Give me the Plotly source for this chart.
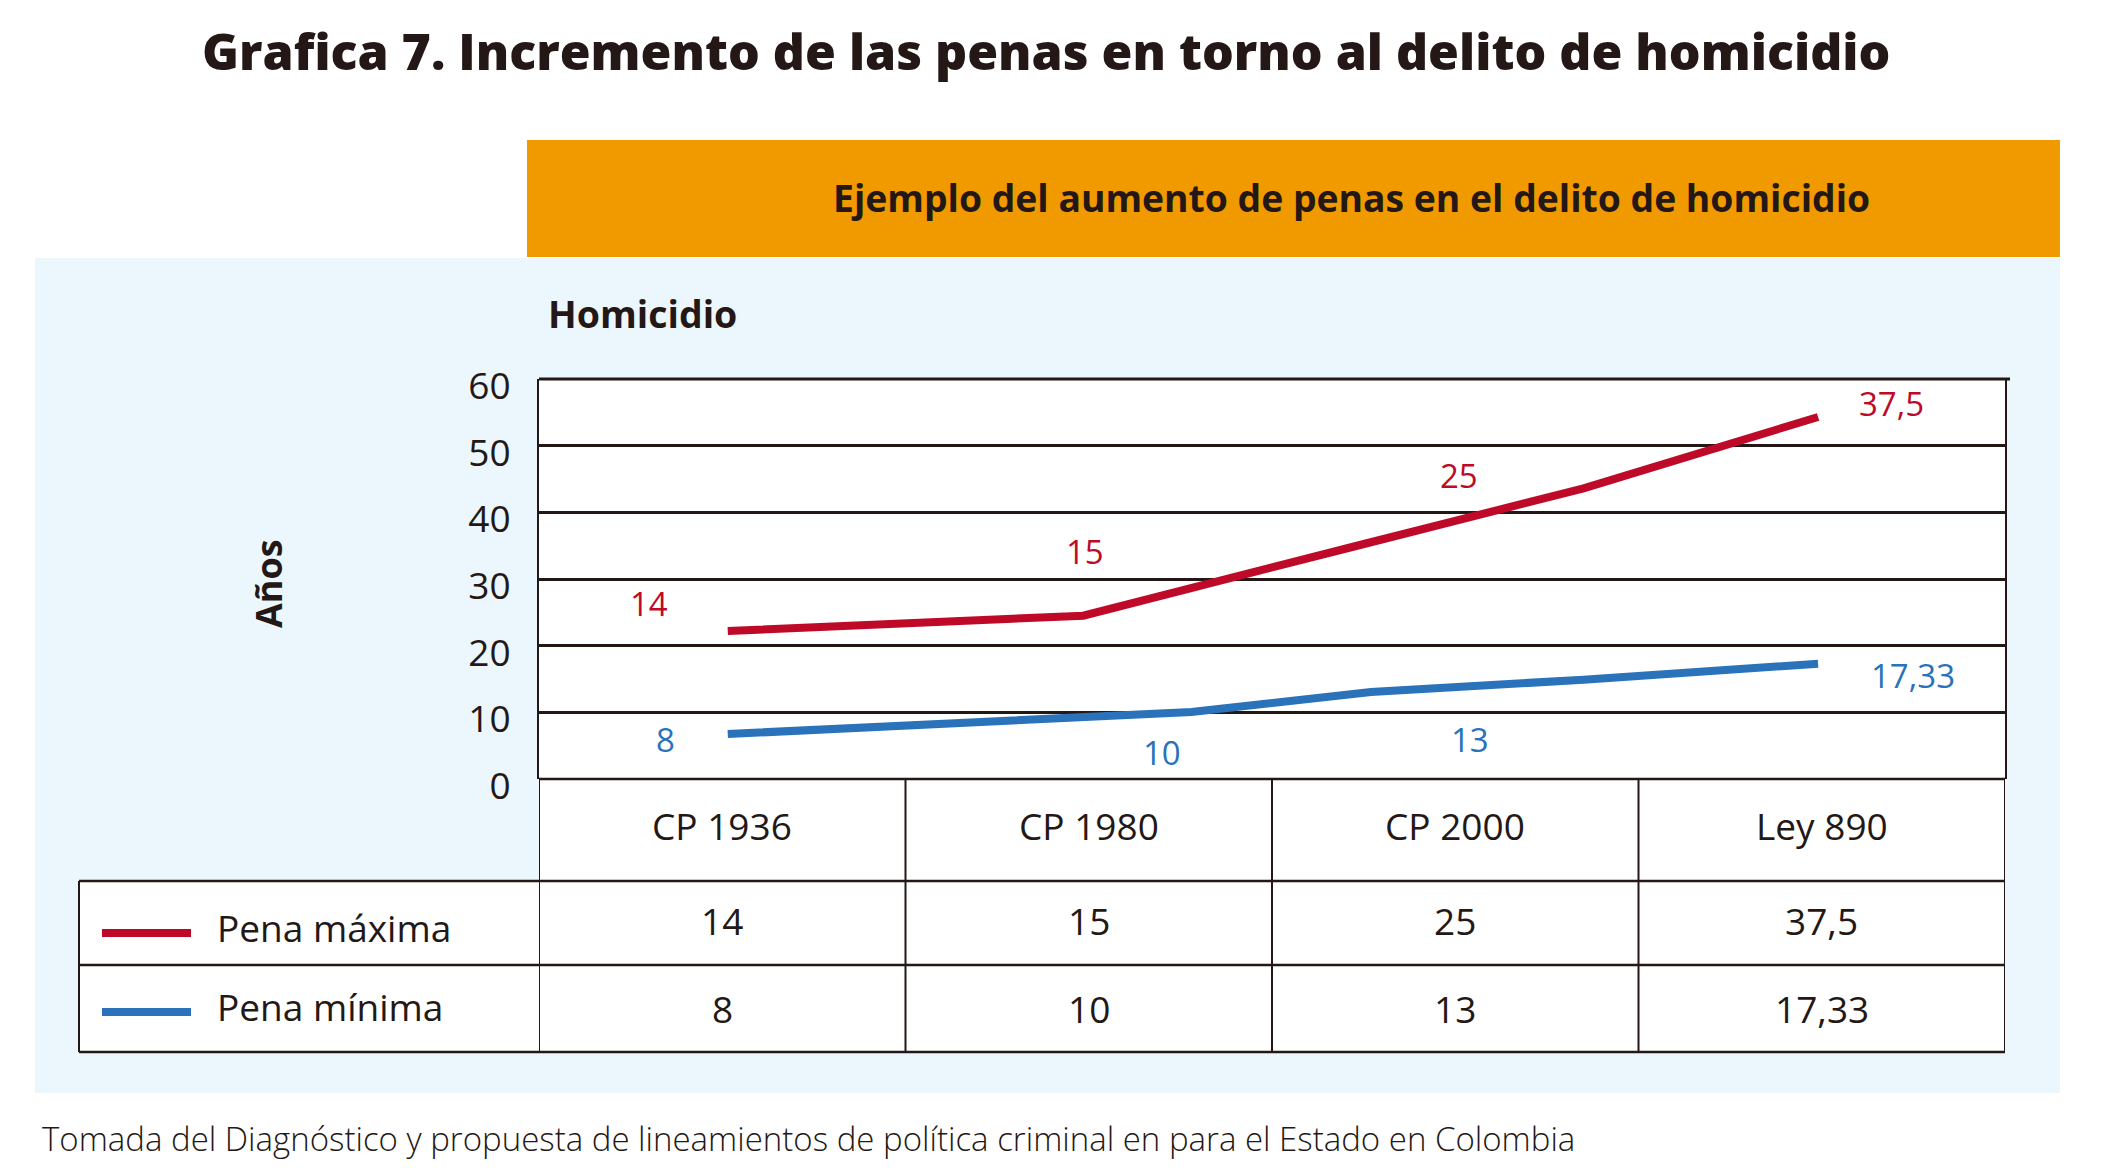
import plotly.graph_objects as go

# ---------------- data ----------------
categorias = ["CP 1936", "CP 1980", "CP 2000", "Ley 890"]
pena_maxima = [14, 15, 25, 37.5]
pena_minima = [8, 10, 13, 17.33]
series_nombres = ["Pena máxima", "Pena mínima"]

# lines as drawn in the picture (x: position across the four columns, y: años)
linea_max_x = [0.515, 1.485, 2.24, 2.85, 3.49]
linea_max_y = [22.2, 24.5, 35.1, 43.6, 54.3]
linea_min_x = [0.515, 1.78, 2.27, 2.85, 3.49]
linea_min_y = [6.75, 10.05, 13.05, 14.9, 17.3]

y_ticks = [0, 10, 20, 30, 40, 50, 60]

titulo = "Grafica 7. Incremento de las penas en torno al delito de homicidio"
encabezado = "Ejemplo del aumento de penas en el delito de homicidio"
subtitulo = "Homicidio"
eje_y = "Años"
fuente = ("Tomada del Diagnóstico y propuesta de lineamientos de política criminal "
          "en para el Estado en Colombia")

# label anchor positions (axis units)
pos_lbl_max = [(0.30, 26.3), (1.49, 34.1), (2.51, 45.5), (3.69, 56.3)]
pos_lbl_min = [(0.345, 6.0), (1.70, 3.95), (2.54, 5.9), (3.75, 15.5)]

# ---------------- style ----------------
OFF = 8                      # page body margin
W, H = 2103 - 2 * OFF, 1168 - 2 * OFF
ML, MR, MT, MB = 531, 90, 371, 381
PW, PH = W - ML - MR, H - MT - MB
ROJO = "#BE0A28"
AZUL = "#2A72B9"
NARANJA = "#F09A00"
CELESTE = "#EBF6FD"
TXT = "#231815"
FONT = "Open Sans"


def px(x):  # screenshot x -> paper
    return (x - OFF - ML) / PW


def py(y):  # screenshot y -> paper
    return (H - MB - (y - OFF)) / PH


def fmt(v):
    return f"{v:g}".replace(".", ",")


fig = go.Figure()
fig.add_trace(go.Scatter(x=linea_max_x, y=linea_max_y, mode="lines",
                         line=dict(color=ROJO, width=8), name=series_nombres[0],
                         showlegend=False, hoverinfo="skip"))
fig.add_trace(go.Scatter(x=linea_min_x, y=linea_min_y, mode="lines",
                         line=dict(color=AZUL, width=8), name=series_nombres[1],
                         showlegend=False, hoverinfo="skip"))

shapes = []
# backgrounds
shapes.append(dict(type="rect", xref="paper", yref="paper", x0=px(35), x1=px(2060),
                   y0=py(258), y1=py(1093), fillcolor=CELESTE, line_width=0, layer="below"))
shapes.append(dict(type="rect", xref="paper", yref="paper", x0=px(527), x1=px(2060),
                   y0=py(140), y1=py(257), fillcolor=NARANJA, line_width=0, layer="below"))
shapes.append(dict(type="rect", xref="paper", yref="paper", x0=0, x1=1,
                   y0=py(1052), y1=1, fillcolor="white", line_width=0, layer="below"))
shapes.append(dict(type="rect", xref="paper", yref="paper", x0=px(79), x1=0,
                   y0=py(1052), y1=py(881), fillcolor="white", line_width=0, layer="below"))

# table grid
row_lines = [881, 965, 1052]
for yy in row_lines:
    shapes.append(dict(type="line", xref="paper", yref="paper", x0=px(79), x1=1,
                       y0=py(yy), y1=py(yy), line=dict(color=TXT, width=2.5)))
shapes.append(dict(type="line", xref="paper", yref="paper", x0=px(79), x1=px(79),
                   y0=py(881), y1=py(1052), line=dict(color=TXT, width=2)))
for i in range(len(categorias) + 1):
    shapes.append(dict(type="line", xref="x", yref="paper", x0=i, x1=i,
                       y0=0, y1=py(1052), line=dict(color=TXT, width=2)))
# top border slightly past the right edge
shapes.append(dict(type="line", xref="paper", yref="paper", x0=0, x1=px(2010),
                   y0=1, y1=1, line=dict(color=TXT, width=3)))
shapes.append(dict(type="line", xref="paper", yref="paper", x0=0, x1=1,
                   y0=0, y1=0, line=dict(color=TXT, width=2.5)))

# legend swatches
for yy, col in [(933, ROJO), (1012, AZUL)]:
    shapes.append(dict(type="line", xref="paper", yref="paper", x0=px(102), x1=px(191),
                       y0=py(yy), y1=py(yy), line=dict(color=col, width=8)))

ann = []
ann.append(dict(text=titulo, xref="paper", yref="paper", x=px(1046), y=py(50.5),
                xanchor="center", yanchor="middle", showarrow=False,
                font=dict(family=FONT, size=50, color=TXT, weight=800)))
ann.append(dict(text=encabezado, xref="paper", yref="paper", x=px(831), y=py(197.5),
                xanchor="left", yanchor="middle", showarrow=False,
                font=dict(family=FONT, size=37.3, color=TXT, weight=700)))
ann.append(dict(text=subtitulo, xref="paper", yref="paper", x=px(546), y=py(313),
                xanchor="left", yanchor="middle", showarrow=False,
                font=dict(family=FONT, size=37.5, color=TXT, weight=700)))
ann.append(dict(text=eje_y, xref="paper", yref="paper", x=px(268), y=py(584),
                xanchor="center", yanchor="middle", showarrow=False, textangle=-90,
                font=dict(family=FONT, size=36, color=TXT, weight=700)))
ann.append(dict(text=fuente, xref="paper", yref="paper", x=px(40), y=py(1138),
                xanchor="left", yanchor="middle", showarrow=False,
                font=dict(family=FONT, size=33, color=TXT, weight=300)))

# data labels
for (xx, yy), v in zip(pos_lbl_max, pena_maxima):
    ann.append(dict(text=fmt(v), x=xx, y=yy, xref="x", yref="y", showarrow=False,
                    xanchor="center", yanchor="middle",
                    font=dict(family=FONT, size=33, color=ROJO)))
for (xx, yy), v in zip(pos_lbl_min, pena_minima):
    ann.append(dict(text=fmt(v), x=xx, y=yy, xref="x", yref="y", showarrow=False,
                    xanchor="center", yanchor="middle",
                    font=dict(family=FONT, size=33, color=AZUL)))

# table text
for i, c in enumerate(categorias):
    ann.append(dict(text=c, x=i + 0.5, y=py(825), xref="x", yref="paper", showarrow=False,
                    xanchor="center", yanchor="middle",
                    font=dict(family=FONT, size=37, color=TXT)))
for i, v in enumerate(pena_maxima):
    ann.append(dict(text=fmt(v), x=i + 0.5, y=py(920), xref="x", yref="paper", showarrow=False,
                    xanchor="center", yanchor="middle",
                    font=dict(family=FONT, size=37, color=TXT)))
for i, v in enumerate(pena_minima):
    ann.append(dict(text=fmt(v), x=i + 0.5, y=py(1008), xref="x", yref="paper", showarrow=False,
                    xanchor="center", yanchor="middle",
                    font=dict(family=FONT, size=37, color=TXT)))
for yy, name in zip([927, 1007], series_nombres):
    ann.append(dict(text=name, xref="paper", yref="paper", x=px(215), y=py(yy),
                    xanchor="left", yanchor="middle", showarrow=False,
                    font=dict(family=FONT, size=37, color=TXT)))

fig.update_layout(
    width=W, height=H,
    margin=dict(l=ML, r=MR, t=MT, b=MB, pad=0),
    paper_bgcolor="white", plot_bgcolor="white",
    shapes=shapes, annotations=ann, showlegend=False,
    xaxis=dict(range=[0, len(categorias)], showticklabels=False, showgrid=False,
               zeroline=False, ticks="", fixedrange=True),
    yaxis=dict(range=[y_ticks[0], y_ticks[-1]], tickvals=y_ticks, showgrid=True,
               gridcolor=TXT, gridwidth=2.5, zeroline=False, ticks="outside", ticklen=19,
               tickcolor="rgba(0,0,0,0)", showline=True, linecolor=TXT, linewidth=2,
               mirror=True, ticklabelshift=7,
               tickfont=dict(family=FONT, size=37, color=TXT),
               fixedrange=True),
)

fig.write_html("out.html")
